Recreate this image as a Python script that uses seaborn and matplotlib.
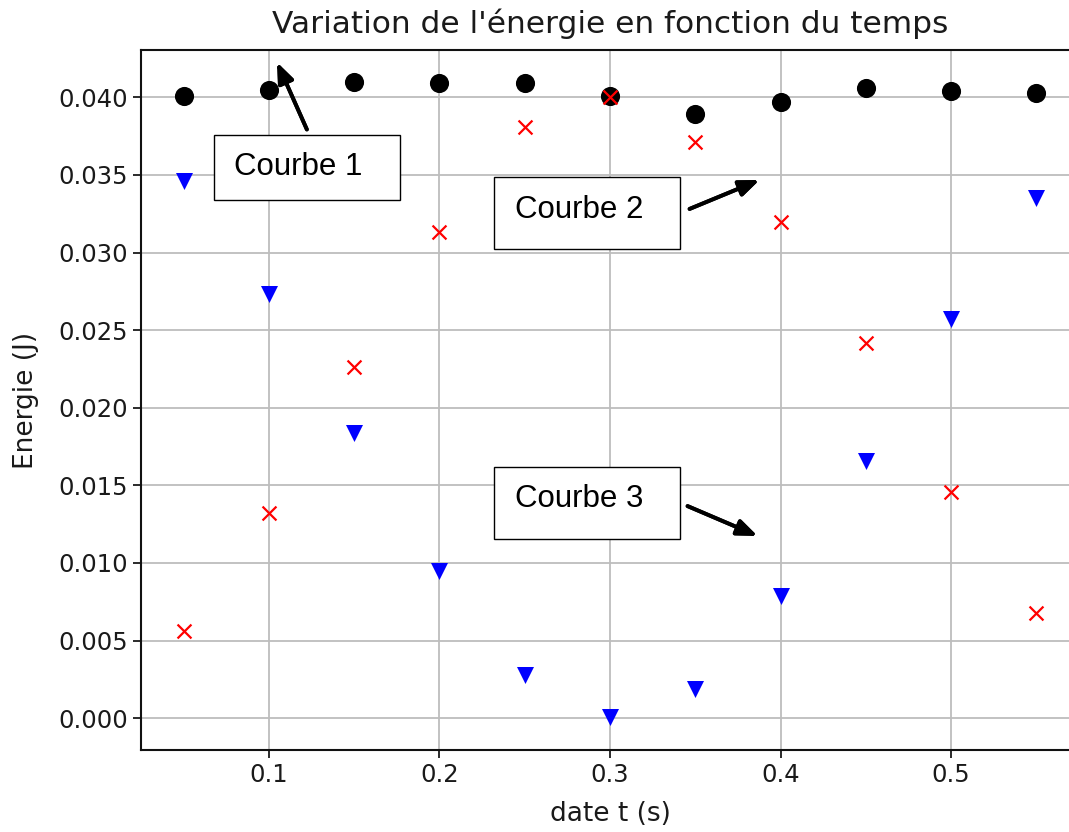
import matplotlib
matplotlib.use("Agg")
import matplotlib.pyplot as plt
import seaborn as sns
import pandas as pd
from matplotlib.patches import Rectangle

# dates (s)
temps = [0.05, 0.10, 0.15, 0.20, 0.25, 0.30, 0.35, 0.40, 0.45, 0.50, 0.55]
# energies (J)
courbe1 = [0.0401, 0.0405, 0.0410, 0.0409, 0.0409, 0.0401, 0.0389, 0.0397, 0.0406, 0.0404, 0.0403]
courbe2 = [0.0056, 0.0132, 0.0226, 0.0313, 0.0381, 0.0400, 0.0371, 0.0320, 0.0242, 0.0146, 0.0068]
courbe3 = [0.0346, 0.0273, 0.0184, 0.0095, 0.0028, 0.0001, 0.0019, 0.0079, 0.0166, 0.0257, 0.0335]

xticks = [0.1, 0.2, 0.3, 0.4, 0.5]
yticks = [0.000, 0.005, 0.010, 0.015, 0.020, 0.025, 0.030, 0.035, 0.040]

df = pd.DataFrame({"t": temps, "c1": courbe1, "c2": courbe2, "c3": courbe3})

sns.set_theme(style="ticks")
plt.rcParams['font.family'] = ['DejaVu Sans']

W, H = 1069, 832
fig = plt.figure(figsize=(W / 100, H / 100), dpi=100)
ax = fig.add_axes([141 / W, 1 - 750 / H, (1079 - 141) / W, (750 - 50) / H])

sns.scatterplot(data=df, x="t", y="c1", ax=ax, color="black", marker="o", s=190,
                linewidth=0, zorder=3)
sns.scatterplot(data=df, x="t", y="c2", ax=ax, color="red", marker="x", s=100,
                linewidth=1.6, zorder=3)
sns.scatterplot(data=df, x="t", y="c3", ax=ax, color="blue", marker="v", s=150,
                linewidth=0, zorder=3)

ax.set_xlim(0.025, 0.575)
ax.set_ylim(-0.00205, 0.04305)
ax.set_xticks(xticks)
ax.set_xticklabels([f"{v:.1f}" for v in xticks])
ax.set_yticks(yticks)
ax.set_yticklabels([f"{v:.3f}" for v in yticks])
ax.grid(True, color="#bdbdbd", linewidth=1.3)
ax.set_axisbelow(True)
ax.tick_params(labelsize=17.5, length=6, width=1.3, colors="#1a1a1a")
for sp in ax.spines.values():
    sp.set_linewidth(1.5)
    sp.set_color("#111111")

ax.set_title("Variation de l'énergie en fonction du temps", fontsize=22.5, pad=12,
             color="#1a1a1a")
ax.set_xlabel("date t (s)", fontsize=19, labelpad=10, color="#1a1a1a")
ax.set_ylabel("Energie (J)", fontsize=19, labelpad=14, color="#1a1a1a")


def fx(px):
    return px / W


def fy(py):
    return 1 - py / H


# boites "Courbe"
boites = [
    ("Courbe 1", (214, 135, 400, 200), (234, 175), (308, 132), (276, 60)),
    ("Courbe 2", (494, 177, 680, 249), (515, 218), (687, 210), (762, 179)),
    ("Courbe 3", (494, 467, 680, 539), (515, 507), (685, 505), (760, 537)),
]
for label, (x0, y0, x1, y1), (tx, ty), (a0x, a0y), (a1x, a1y) in boites:
    fig.add_artist(Rectangle((fx(x0), fy(y1)), fx(x1) - fx(x0), fy(y0) - fy(y1),
                             transform=fig.transFigure, facecolor="white",
                             edgecolor="black", linewidth=1.0, zorder=5))
    fig.text(fx(tx), fy(ty), label, fontsize=22.5, family="Liberation Sans",
             color="black", ha="left", va="baseline", zorder=6)
    fig.add_artist(plt.annotate("", xy=(fx(a1x), fy(a1y)), xycoords="figure fraction",
                                xytext=(fx(a0x), fy(a0y)), textcoords="figure fraction",
                                arrowprops=dict(arrowstyle="-|>,head_length=1.0,head_width=0.4",
                                                color="black", lw=2.8)))

fig.savefig("out.png", dpi=100)
